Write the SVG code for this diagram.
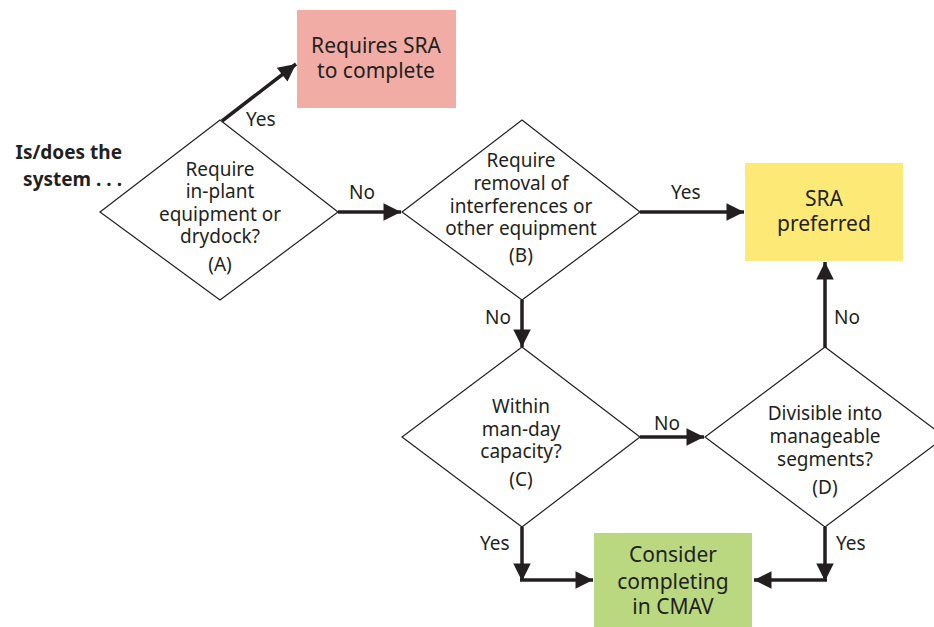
<svg xmlns="http://www.w3.org/2000/svg" width="934" height="627" viewBox="0 0 934 627">
<defs>
<style>
.t{font-family:"Noto Sans","Open Sans",sans-serif;font-size:19px;fill:#231F20;text-anchor:middle}
.bx{font-size:21px}
.lb{font-family:"Noto Sans","Open Sans",sans-serif;font-size:19px;fill:#231F20}
.d{fill:#fff;stroke:#231F20;stroke-width:1.2}
.c{fill:none;stroke:#231F20;stroke-width:3.5}
</style>
<marker id="ah" viewBox="0 0 10 10" refX="10" refY="5" markerWidth="6" markerHeight="5" markerUnits="strokeWidth" orient="auto">
<path d="M0,0 L10,5 L0,10 z" fill="#231F20"/>
</marker>
</defs>
<rect width="934" height="627" fill="#fff"/>
<text class="lb" x="122" y="159" text-anchor="end" font-weight="bold" font-size="20">Is/does the</text>
<text class="lb" x="122" y="186" text-anchor="end" font-weight="bold" font-size="20">system . . .</text>
<g id="connectors">
<path class="c" d="M222,121 L296,64" marker-end="url(#ah)"/>
<path class="c" d="M338,212 L401,212" marker-end="url(#ah)"/>
<path class="c" d="M640,212 L744,212" marker-end="url(#ah)"/>
<path class="c" d="M522,300 L522,347" marker-end="url(#ah)"/>
<path class="c" d="M640,437 L704,437" marker-end="url(#ah)"/>
<path class="c" d="M825,348 L825,262" marker-end="url(#ah)"/>
<path class="c" d="M522,527 L522,581" marker-end="url(#ah)"/>
<path class="c" d="M520,580 L593,580" marker-end="url(#ah)"/>
<path class="c" d="M825,527 L825,581" marker-end="url(#ah)"/>
<path class="c" d="M827,580 L754,580" marker-end="url(#ah)"/>
<text class="lb" x="246" y="126">Yes</text>
<text class="lb" x="349" y="199">No</text>
<text class="lb" x="671" y="199">Yes</text>
<text class="lb" x="485" y="324">No</text>
<text class="lb" x="834" y="324">No</text>
<text class="lb" x="654" y="430">No</text>
<text class="lb" x="480" y="550">Yes</text>
<text class="lb" x="836" y="550">Yes</text>
</g>
<g id="sra-complete">
<rect x="297" y="10" width="159" height="98" fill="#F1ADA5"/>
<text class="t bx" x="376" y="53">Requires SRA</text>
<text class="t bx" x="376" y="78">to complete</text>
</g>
<g id="diamond-a">
<path class="d" d="M220,120 L338,212 L220,300 L100,212 z"/>
<text class="t" x="220" y="176">Require</text>
<text class="t" x="220" y="198">in-plant</text>
<text class="t" x="220" y="221">equipment or</text>
<text class="t" x="220" y="243">drydock?</text>
<text class="t" x="220" y="271">(A)</text>
</g>
<g id="diamond-b">
<path class="d" d="M522,120 L640,212 L522,300 L402,212 z"/>
<text class="t" x="521" y="167">Require</text>
<text class="t" x="521" y="190">removal of</text>
<text class="t" x="521" y="213">interferences or</text>
<text class="t" x="521" y="235">other equipment</text>
<text class="t" x="521" y="262">(B)</text>
</g>
<g id="sra-preferred">
<rect x="745" y="163" width="158" height="98" fill="#FDEA76"/>
<text class="t bx" x="824" y="206">SRA</text>
<text class="t bx" x="824" y="231">preferred</text>
</g>
<g id="diamond-c">
<path class="d" d="M522,347 L640,437 L522,527 L402,437 z"/>
<text class="t" x="521" y="413">Within</text>
<text class="t" x="521" y="436">man-day</text>
<text class="t" x="521" y="458">capacity?</text>
<text class="t" x="521" y="486">(C)</text>
</g>
<g id="diamond-d">
<path class="d" d="M825,347 L945,437 L825,527 L705,437 z"/>
<text class="t" x="825" y="420">Divisible into</text>
<text class="t" x="825" y="443">manageable</text>
<text class="t" x="825" y="466">segments?</text>
<text class="t" x="825" y="494">(D)</text>
</g>
<g id="cmav">
<rect x="594" y="533" width="158" height="94" fill="#BAD880"/>
<text class="t bx" x="673" y="562">Consider</text>
<text class="t bx" x="673" y="589">completing</text>
<text class="t bx" x="673" y="614">in CMAV</text>
</g>
</svg>
